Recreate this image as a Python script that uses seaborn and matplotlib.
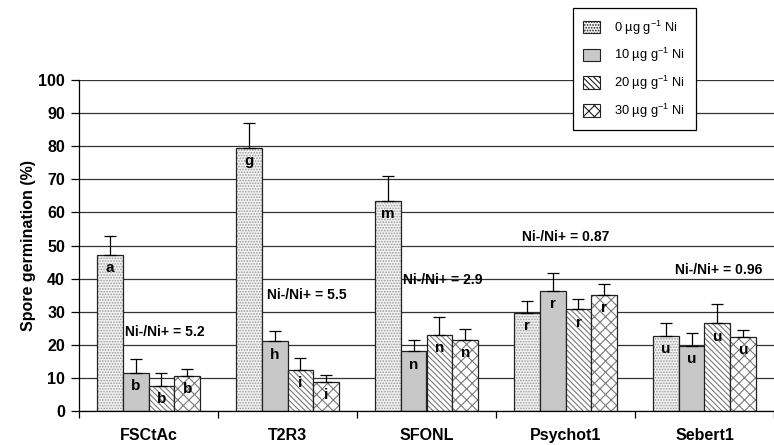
import matplotlib
matplotlib.use("Agg")
import matplotlib.pyplot as plt
import seaborn as sns
import pandas as pd
import numpy as np
from matplotlib.patches import Patch

categories = ["FSCtAc", "T2R3", "SFONL", "Psychot1", "Sebert1"]
series = ["0 µg g$^{-1}$ Ni", "10 µg g$^{-1}$ Ni",
          "20 µg g$^{-1}$ Ni", "30 µg g$^{-1}$ Ni"]
ni0 = [47.2, 79.5, 63.5, 29.7, 22.7]
ni10 = [11.5, 21.0, 18.0, 36.3, 19.7]
ni20 = [7.5, 12.5, 23.0, 30.7, 26.5]
ni30 = [10.6, 8.8, 21.5, 35.0, 22.3]
err0 = [5.8, 7.5, 7.5, 3.6, 3.8]
err10 = [4.2, 3.3, 3.5, 5.3, 3.8]
err20 = [4.0, 3.5, 5.3, 3.1, 5.9]
err30 = [2.1, 2.2, 3.2, 3.5, 2.3]
letters0 = ["a", "g", "m", "r", "u"]
letters10 = ["b", "h", "n", "r", "u"]
letters20 = ["b", "i", "n", "r", "u"]
letters30 = ["b", "i", "n", "r", "u"]
ratio_labels = ["Ni-/Ni+ = 5.2", "Ni-/Ni+ = 5.5", "Ni-/Ni+ = 2.9",
                "Ni-/Ni+ = 0.87", "Ni-/Ni+ = 0.96"]
ratio_x = [-0.17, 0.85, 1.83, 2.69, 3.79]
ratio_y = [24.0, 35.0, 39.6, 52.6, 42.6]

values = [ni0, ni10, ni20, ni30]
errors = [err0, err10, err20, err30]
letters = [letters0, letters10, letters20, letters30]

rows = []
for s, vals in zip(series, values):
    for c, v in zip(categories, vals):
        rows.append({"strain": c, "dose": s, "germ": v})
df = pd.DataFrame(rows)

sns.set_theme(style="white")
plt.rcParams["font.family"] = ["Liberation Sans", "DejaVu Sans"]
plt.rcParams["mathtext.default"] = "regular"
plt.rcParams["hatch.linewidth"] = 0.8
plt.rcParams["text.color"] = "black"
plt.rcParams["axes.labelcolor"] = "black"
plt.rcParams["xtick.color"] = "black"
plt.rcParams["ytick.color"] = "black"

fig = plt.figure(figsize=(7.74, 4.45), dpi=100)
ax = fig.add_axes([79 / 774, 34 / 445, 695 / 774, 331 / 445])

fills = ["#f2f2f2", "#c8c8c8", "white", "white"]
hatches = ["......", None, "\\\\\\\\\\\\", "xxx"]
hcolors = ["#9a9a9a", "#c8c8c8", "#7a7a7a", "#7a7a7a"]

sns.barplot(data=df, x="strain", y="germ", hue="dose", order=categories,
            hue_order=series, width=0.745, gap=0, errorbar=None,
            legend=False, ax=ax, saturation=1)

for spine in ["top", "right"]:
    ax.spines[spine].set_visible(False)
ax.spines["left"].set_color("black")
ax.spines["bottom"].set_color("black")
ax.spines["left"].set_linewidth(0.9)
ax.spines["bottom"].set_linewidth(0.9)

bar_conts = list(ax.containers)
for i, cont in enumerate(bar_conts):
    for j, bar in enumerate(cont):
        bar.set_facecolor(fills[i])
        bar.set_edgecolor("#222222")
        bar.set_linewidth(0.9)
        if hatches[i]:
            bar.set_hatch(hatches[i])
            bar._hatch_color = matplotlib.colors.to_rgba(hcolors[i])
        xc = bar.get_x() + bar.get_width() / 2
        h = bar.get_height()
        ax.errorbar(xc, h, yerr=[[0], [errors[i][j]]], fmt="none",
                    ecolor="black", elinewidth=0.9, capsize=4.5,
                    capthick=0.9, zorder=3)
        ax.text(xc, h - 4.0, letters[i][j], ha="center", va="center",
                fontsize=11, fontweight="bold", color="black", zorder=4)

for lab, x, y in zip(ratio_labels, ratio_x, ratio_y):
    ax.text(x, y, lab, ha="left", va="center", fontsize=10,
            fontweight="bold", color="black", zorder=4)

ax.set_ylim(0, 100)
ax.set_xlim(-0.5, 4.464)
ax.set_yticks(np.arange(0, 101, 10))
ax.set_axisbelow(True)
ax.yaxis.grid(True, color="#333333", linewidth=0.9)
ax.xaxis.grid(False)
ax.set_xticks(np.arange(-0.5, 5, 1.0), minor=True)
ax.tick_params(axis="x", which="major", length=0, pad=12.5, labelsize=11.5)
ax.tick_params(axis="x", which="minor", length=5, width=0.9, color="black",
               direction="out", bottom=True)
ax.tick_params(axis="y", which="major", length=6, width=0.9, color="black",
               direction="out", left=True, labelsize=11.5, pad=4)
for t in ax.get_xticklabels() + ax.get_yticklabels():
    t.set_fontweight("bold")
ax.set_xlabel("")
ax.set_ylabel("Spore germination (%)", fontsize=11.5, fontweight="bold",
              labelpad=2)

handles = []
for i in range(4):
    p = Patch(facecolor=fills[i], edgecolor="#222222", linewidth=0.8,
              hatch=hatches[i])
    handles.append(p)
leg = fig.legend(handles, series, loc="upper left",
                 bbox_to_anchor=(573 / 774, 1 - 8 / 445),
                 frameon=True, fancybox=False, fontsize=9.3,
                 handlelength=1.3, handleheight=1.1, labelspacing=0.74,
                 borderpad=0.8, handletextpad=1.1, borderaxespad=0)
leg.get_frame().set_edgecolor("black")
leg.get_frame().set_linewidth(0.9)
leg.get_frame().set_alpha(1)

fig.savefig("out.png", dpi=100)
